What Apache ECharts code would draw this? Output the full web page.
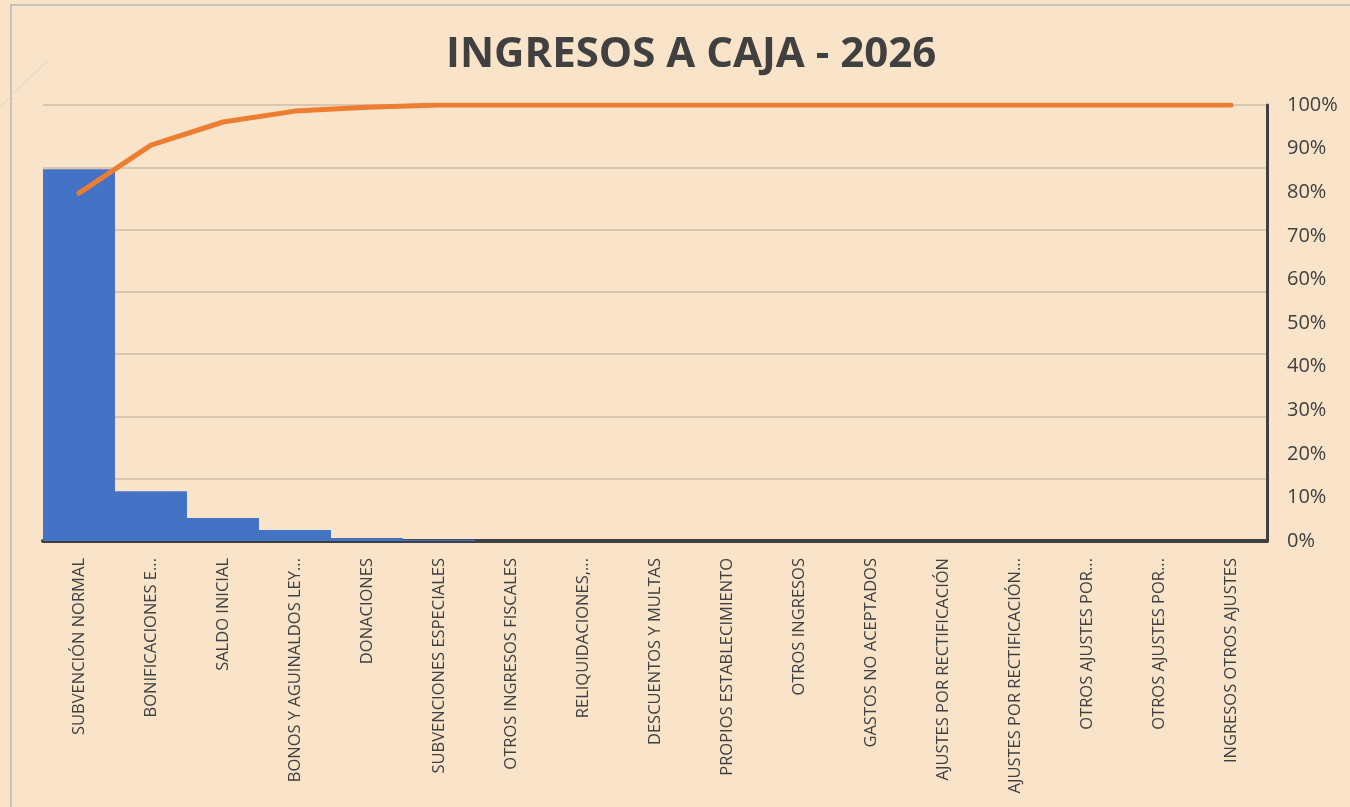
<!DOCTYPE html>
<html>
<head>
<meta charset="utf-8">
<title>INGRESOS A CAJA - 2026</title>
<script src="https://cdn.jsdelivr.net/npm/echarts@6/dist/echarts.min.js"></script>
<style>
  html, body { margin: 0; padding: 0; background: #f9e3c9; }
  #main { width: 1350px; height: 807px; }
</style>
</head>
<body>
<div id="main"></div>
<script>
// categorias (etiquetas tal como aparecen, recortadas)
var categorias = [
  'SUBVENCIÓN NORMAL',
  'BONIFICACIONES E...',
  'SALDO INICIAL',
  'BONOS Y AGUINALDOS LEY...',
  'DONACIONES',
  'SUBVENCIONES ESPECIALES',
  'OTROS INGRESOS FISCALES',
  'RELIQUIDACIONES,...',
  'DESCUENTOS Y MULTAS',
  'PROPIOS ESTABLECIMIENTO',
  'OTROS INGRESOS',
  'GASTOS NO ACEPTADOS',
  'AJUSTES POR RECTIFICACIÓN',
  'AJUSTES POR RECTIFICACIÓN...',
  'OTROS AJUSTES POR...',
  'OTROS AJUSTES POR...',
  'INGRESOS OTROS AJUSTES'
]

// montos (eje izquierdo sin etiquetas, escala 0-7)
var montos = [5.97, 0.80, 0.37, 0.177, 0.05, 0.02, 0, 0, 0, 0, 0, 0, 0, 0, 0, 0, 0]

// porcentaje acumulado (eje derecho)
var acumulado = [79.8, 90.8, 96.1, 98.6, 99.5, 100, 100, 100, 100, 100, 100, 100, 100, 100, 100, 100, 100]

var montoMax = 7
var montoIntervalo = 1
var pctMax = 100
var pctIntervalo = 10

var myChart = echarts.init(document.getElementById('main'))
myChart.setOption({
    backgroundColor: '#f9e3c9',
    animation: false,
    title: {
        text: 'INGRESOS A CAJA - 2026',
        left: 441,
        top: 29,
        textStyle: {
            fontFamily: 'Open Sans',
            fontWeight: 'bold',
            fontSize: 42,
            color: '#404040'
        }
    },
    graphic: [
        {
            type: 'rect',
            silent: true,
            shape: { x: 11, y: 5, width: 1400, height: 900 },
            style: { fill: 'none', stroke: '#c6c3bf', lineWidth: 2 }
        },
        {
            type: 'line',
            silent: true,
            shape: { x1: 0, y1: 107, x2: 47, y2: 61 },
            style: { stroke: '#e3cfb9', lineWidth: 1 }
        }
    ],
    grid: {
        left: 43,
        right: 83,
        top: 105,
        bottom: 266
    },
    xAxis: {
        type: 'category',
        data: categorias,
        axisLine: { lineStyle: { color: '#404040', width: 4 } },
        axisTick: { show: false },
        axisLabel: {
            interval: 0,
            rotate: 90,
            margin: 17,
            fontFamily: 'Open Sans',
            fontSize: 16.5,
            color: '#404040'
        }
    },
    yAxis: [
        {
            type: 'value',
            min: 0,
            max: montoMax,
            interval: montoIntervalo,
            axisLabel: { show: false },
            axisLine: { show: false },
            axisTick: { show: false },
            splitLine: { lineStyle: { color: '#cdbda9', width: 1.5 } }
        },
        {
            type: 'value',
            position: 'right',
            min: 0,
            max: pctMax,
            interval: pctIntervalo,
            axisLine: { show: true, lineStyle: { color: '#404040', width: 3 } },
            axisTick: { show: false },
            splitLine: { show: false },
            axisLabel: {
                formatter: '{value}%',
                margin: 20,
                fontFamily: 'Open Sans',
                fontSize: 20,
                color: '#404040'
            }
        }
    ],
    series: [
        {
            name: 'Monto',
            type: 'bar',
            data: montos,
            barCategoryGap: '0%',
            itemStyle: { color: '#4472c4' }
        },
        {
            name: 'Acumulado',
            type: 'line',
            yAxisIndex: 1,
            data: acumulado,
            showSymbol: false,
            symbol: 'none',
            lineStyle: { color: '#ed7d31', width: 5, cap: 'round', join: 'round' }
        }
    ]
})
</script>
</body>
</html>
